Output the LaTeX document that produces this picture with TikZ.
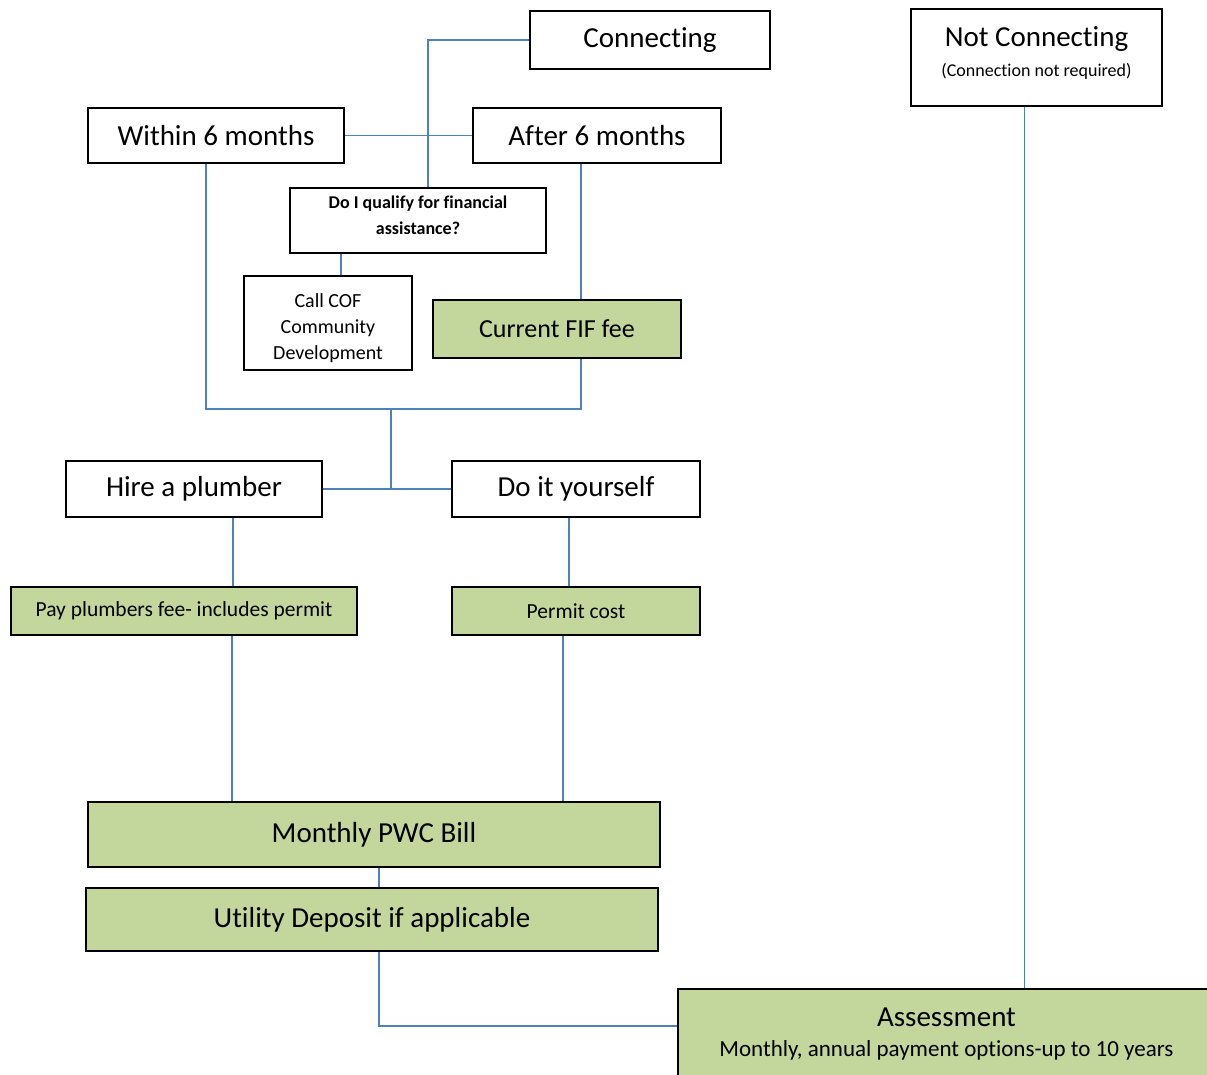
\documentclass[tikz,border=0pt]{standalone}
\usepackage{fontspec}
\setmainfont{Carlito}[Ligatures={NoCommon,NoContextual}]
\usetikzlibrary{positioning}
\definecolor{leaf}{HTML}{C3D69B}
\definecolor{wire}{HTML}{4F81BD}

\begin{document}
\begin{tikzpicture}[x=1pt, y=-1pt,
    box/.style={draw, line width=1.6pt, inner sep=0pt, align=center,
                font=\fontsize{29}{34}\selectfont},
    paid/.style={box, fill=leaf},
    small/.style={font=\fontsize{20}{26}\selectfont},
    link/.style={draw=wire, line width=1.8pt}]

  \useasboundingbox (0,0) rectangle (1207,1074);

  % top row
  \node[box, minimum width=240pt, minimum height=58pt] (conn) at (650,40) {Connecting};
  \node[box, minimum width=251pt, minimum height=97pt, text depth=11pt] (notconn) at (1036.5,57.5)
    {Not Connecting\\[-4pt]{\fontsize{18}{22}\selectfont (Connection not required)}};
  \node[box, minimum width=256pt, minimum height=55pt] (within) at (216,135.5) {Within 6 months};
  \node[box, minimum width=248pt, minimum height=55pt] (after) at (597,135.5) {After 6 months};
  \node[box, minimum width=256pt, minimum height=65pt, text depth=10pt,
        font=\fontsize{18}{26}\selectfont\bfseries]
    (qualify) at (418,220.5) {Do I qualify for financial\\assistance?};
  \node[box, small, minimum width=168pt, minimum height=94pt] (callcof) at (328,323)
    {\rule{0pt}{24pt}Call COF\\Community\\Development};
  \node[paid, minimum width=248pt, minimum height=58pt, font=\fontsize{26}{30}\selectfont]
    (fif) at (557,329) {Current FIF fee};

  % who does the work
  \node[box, minimum width=256pt, minimum height=56pt] (hire) at (194,489) {Hire a plumber};
  \node[box, minimum width=248pt, minimum height=56pt] (diy) at (576,489) {Do it yourself};
  \node[paid, minimum width=346pt, minimum height=48pt, font=\fontsize{21.5}{26}\selectfont]
    (pay) at (184,611) {Pay plumbers fee- includes permit};
  \node[paid, minimum width=248pt, minimum height=48pt, font=\fontsize{21.5}{26}\selectfont]
    (permit) at (576,611) {Permit cost};

  % bills
  \node[paid, minimum width=572pt, minimum height=65pt] (monthly) at (374,834.5) {Monthly PWC Bill};
  \node[paid, minimum width=572pt, minimum height=63pt] (deposit) at (372,919.5) {Utility Deposit if applicable};
  \node[paid, minimum width=537pt, minimum height=91pt] (assess) at (946.5,1034.5)
    {Assessment\\[-4pt]{\fontsize{23}{28}\selectfont Monthly, annual payment options-up to 10 years}};

  \coordinate (mid) at (391,409);

  \draw[link] (conn.west) -| ([xshift=10pt]qualify.north);
  \draw[link] (within.east) -- (after.west);
  \draw[link] ([xshift=-77pt]qualify.south) -- ([xshift=13pt]callcof.north);
  \draw[link] ([xshift=-16pt]after.south) -- ([xshift=24pt]fif.north);
  \draw[link] ([xshift=-10pt]within.south) |- (mid) -| ([xshift=24pt]fif.south);
  \draw[link] (mid) -- (mid |- hire.east);
  \draw[link] (hire.east) -- (diy.west);
  \draw[link] ([xshift=39pt]hire.south) -- ([xshift=49pt]pay.north);
  \draw[link] ([xshift=-7pt]diy.south) -- ([xshift=-7pt]permit.north);
  \draw[link] ([xshift=48pt]pay.south) -- ([xshift=-142pt]monthly.north);
  \draw[link] ([xshift=-13pt]permit.south) -- ([xshift=189pt]monthly.north);
  \draw[link] ([xshift=5pt]monthly.south) -- ([xshift=7pt]deposit.north);
  \draw[link] ([xshift=7pt]deposit.south) |- ([yshift=8.5pt]assess.west);
  \draw[link] ([xshift=-12pt]notconn.south) -- ([xshift=-12pt]notconn.south |- assess.north);
\end{tikzpicture}
\end{document}
